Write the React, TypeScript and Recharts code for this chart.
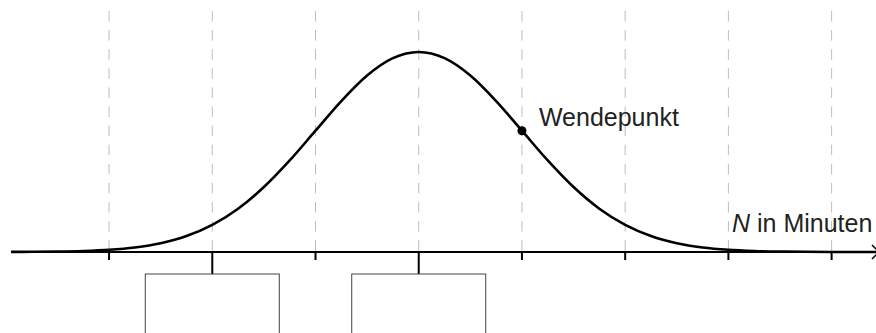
import React from 'react';
import { LineChart, Line, XAxis, YAxis, CartesianGrid, ReferenceDot } from 'recharts';

// N (in standard deviations from the mean, one grid step = one σ)
const nValues = [-3.95, -3.75, -3.5, -3.25, -3, -2.75, -2.5, -2.25, -2, -1.75, -1.5, -1.25, -1, -0.75, -0.5, -0.25, 0, 0.25, 0.5, 0.75, 1, 1.25, 1.5, 1.75, 2, 2.25, 2.5, 2.75, 3, 3.25, 3.5, 3.75, 4, 4.25, 4.43];
// relative height of the bell curve (peak = 1)
const densityValues = [0.0004, 0.0009, 0.0022, 0.0051, 0.0111, 0.0228, 0.0439, 0.0796, 0.1353, 0.2163, 0.3247, 0.4578, 0.6065, 0.7548, 0.8825, 0.9692, 1, 0.9692, 0.8825, 0.7548, 0.6065, 0.4578, 0.3247, 0.2163, 0.1353, 0.0796, 0.0439, 0.0228, 0.0111, 0.0051, 0.0022, 0.0009, 0.0003, 0.0001, 0.0001];
const tickValues = [-3, -2, -1, 0, 1, 2, 3, 4];
const boxedTicks = [-2, 0];
const inflectionPoint = { n: 1, y: 0.6065, label: 'Wendepunkt' };
const axisTitle = { symbol: 'N', rest: ' in Minuten' };

const data = nValues.map((n, i) => ({ n, y: densityValues[i] }));

const FONT = '"Liberation Sans", Arial, Helvetica, sans-serif';
const FONT_SIZE = 25;

const Tick = (props: any) => {
  const { x, y, payload } = props;
  const boxed = boxedTicks.includes(payload.value);
  const len = boxed ? 22 : 8;
  return (
    <g>
      <line x1={x} y1={y} x2={x} y2={y + len} stroke="#000" strokeWidth={2} />
      {boxed && (
        <rect x={x - 67} y={y + len} width={134} height={90} fill="none" stroke="#444" strokeWidth={1} />
      )}
    </g>
  );
};

const AxisLabel = (props: any) => {
  const vb = props.viewBox || { x: 11, y: 252, width: 865, height: 30 };
  const endX = vb.x + vb.width;
  const ay = vb.y;
  return (
    <g>
      <polyline
        points={`${endX - 4},${ay - 7} ${endX + 3},${ay} ${endX - 4},${ay + 7}`}
        fill="none"
        stroke="#000"
        strokeWidth={1.5}
      />
      <text x={endX - 144} y={ay - 20} fontFamily={FONT} fontSize={FONT_SIZE} fill="#222">
        <tspan fontStyle="italic">{axisTitle.symbol}</tspan>
        <tspan>{axisTitle.rest}</tspan>
      </text>
    </g>
  );
};

const DotShape = (props: any) => {
  const { cx, cy } = props;
  return (
    <g>
      <circle cx={cx} cy={cy} r={4.5} fill="#000" />
      <text x={cx + 17} y={cy - 5} fontFamily={FONT} fontSize={FONT_SIZE} fill="#222">
        {inflectionPoint.label}
      </text>
    </g>
  );
};

const gridX = (args: any) => {
  const { xAxis, offset } = args;
  const scale = xAxis && xAxis.scale;
  if (scale && typeof scale === 'function') {
    return tickValues.map((v) => scale(v));
  }
  if (scale && typeof scale.map === 'function') {
    return tickValues.map((v) => scale.map(v));
  }
  const left = offset.left;
  const w = offset.width;
  return tickValues.map((v) => left + ((v + 3.95) / (4.43 + 3.95)) * w);
};

export default function App() {
  return (
    <div style={{ position: 'absolute', left: 0, top: 0 }}>
      <LineChart width={876} height={333} data={data} margin={{ top: 11, right: 0, bottom: 51, left: 11 }}>
        <CartesianGrid
          vertical
          horizontal={false}
          stroke="#bdbdbd"
          strokeDasharray="10.5 8.6"
          verticalCoordinatesGenerator={gridX}
        />
        <XAxis
          type="number"
          dataKey="n"
          domain={[-3.95, 4.43]}
          ticks={tickValues}
          interval={0}
          tick={Tick}
          tickLine={false}
          tickSize={0}
          tickMargin={0}
          axisLine={{ stroke: '#000', strokeWidth: 2 }}
          height={30}
          label={AxisLabel}
        />
        <YAxis hide domain={[0, 1.205]} />
        <Line
          type="monotone"
          dataKey="y"
          stroke="#000"
          strokeWidth={2.6}
          dot={false}
          activeDot={false}
          isAnimationActive={false}
        />
        <ReferenceDot x={inflectionPoint.n} y={inflectionPoint.y} r={4.5} shape={DotShape} />
      </LineChart>
    </div>
  );
}
